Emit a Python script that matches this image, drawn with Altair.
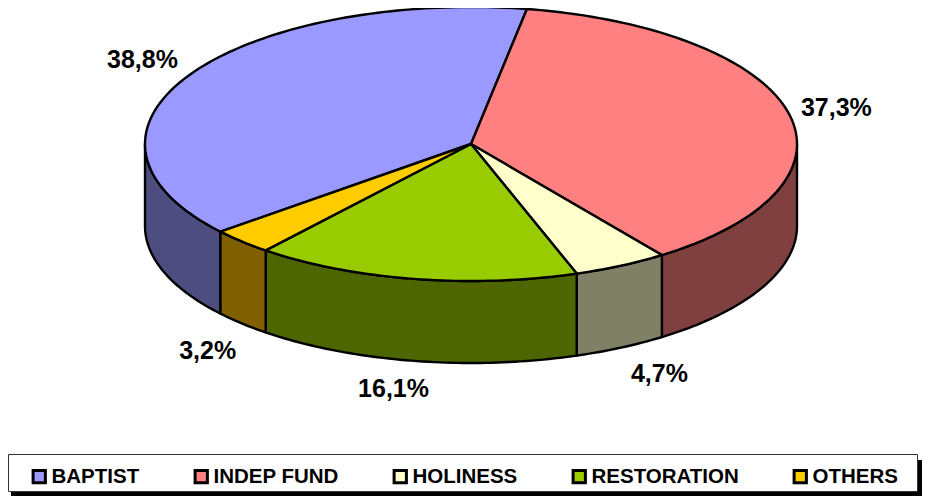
import math
import altair as alt
import pandas as pd

names = ["BAPTIST", "INDEP FUND", "HOLINESS", "RESTORATION", "OTHERS"]
shares = [38.8, 37.3, 4.7, 16.1, 3.2]
labels = ["38,8%", "37,3%", "4,7%", "16,1%", "3,2%"]
top_colors = ["#9999FF", "#FF8080", "#FFFFCC", "#99CC00", "#FFCC00"]
side_colors = ["#4D4D80", "#804040", "#808066", "#4D6600", "#806000"]

W, H = 914, 488
OX, OY = 8, 8            # page offset of the plot area
CX, CY, RX, RY, DEPTH = 471, 144, 326, 137, 82
START = 230.2            # first slice starts here, degrees clockwise from top
PER_UNIT = 3.6
# label anchor tweaks around the computed radial position
nudge = [(-4, -2), (0, 1), (16, 2.5), (-12, 1), (0, 8)]


def pt(deg, drop=0):
    a = math.radians(deg)
    return CX + RX * math.sin(a), CY - RY * math.cos(a) + drop


tops, sides, texts = [], [], []
a0 = START
for i, (n, s) in enumerate(zip(names, shares)):
    a1 = min(a0 + s * PER_UNIT, START + 360)
    steps = max(3, int(s * 3))
    arc = [a0 + (a1 - a0) * k / steps for k in range(steps + 1)]
    poly = [(CX, CY)] + [pt(a) for a in arc] + [(CX, CY)]
    tops.append(pd.DataFrame([{"k": k, "x": x, "y": y} for k, (x, y) in enumerate(poly)]))
    # visible wall: the part of the rim lying in the front half of the ellipse
    wall = []
    for off in (0, 360):
        lo, hi = max(a0, 90 + off), min(a1, 270 + off)
        if lo < hi:
            m = max(3, int(hi - lo))
            seg = [lo + (hi - lo) * k / m for k in range(m + 1)]
            ring = [pt(a) for a in seg] + [pt(a, DEPTH) for a in reversed(seg)]
            ring.append(ring[0])
            wall = [{"k": k, "x": x, "y": y} for k, (x, y) in enumerate(ring)]
    sides.append(pd.DataFrame(wall))
    mid = (a0 + a1) / 2
    mx, my = pt(mid)
    lx = CX + (mx - CX) * 1.15 + nudge[i][0]
    ly = CY + (my - CY) * 1.2 + (DEPTH if math.cos(math.radians(mid)) < 0 else 0) + nudge[i][1]
    texts.append({"label": labels[i], "x": lx, "y": ly})
    a0 = a1

xs = alt.Scale(domain=[OX, OX + W], range=[0, W], nice=False, zero=False)
ys = alt.Scale(domain=[OY, OY + H], range=[0, H], nice=False, zero=False)
X = alt.X("x:Q", scale=xs, axis=None)
Y = alt.Y("y:Q", scale=ys, axis=None)


def shape(df, colour):
    return (
        alt.Chart(df)
        .mark_line(fill=colour, stroke="black", strokeWidth=2.4, strokeJoin="round", interpolate="linear")
        .encode(x=X, y=Y, order="k:Q")
    )


walls = [shape(df, c) for df, c in zip(sides, side_colors)]
faces = [shape(df, c) for df, c in zip(tops, top_colors)]

legend_layer = (
    alt.Chart(pd.DataFrame({"name": names}))
    .mark_square(opacity=0, size=1)
    .encode(
        x=alt.value(0), y=alt.value(0),
        fill=alt.Fill(
            "name:N",
            sort=names,
            scale=alt.Scale(domain=names, range=top_colors),
            legend=alt.Legend(
                title=None, orient="none", legendX=21, legendY=458, columns=5,
                direction="horizontal", symbolType="square", symbolSize=151,
                symbolStrokeColor="black", symbolStrokeWidth=3, symbolOpacity=1,
                labelFont="Liberation Sans", labelFontWeight="bold", labelFontSize=20.5,
                labelColor="black", labelOffset=2, columnPadding=49, labelLimit=300,
                padding=0, zindex=1,
            ),
        ),
    )
)
text = (
    alt.Chart(pd.DataFrame(texts))
    .mark_text(font="Liberation Sans", fontWeight="bold", fontSize=25, color="black",
               align="center", baseline="middle")
    .encode(x=X, y=Y, text="label:N")
)
one = pd.DataFrame({"a": [0]})
shadow1 = alt.Chart(one).mark_rect(color="black").encode(
    x=alt.value(3), x2=alt.value(W), y=alt.value(483), y2=alt.value(H))
shadow2 = alt.Chart(one).mark_rect(color="black").encode(
    x=alt.value(909), x2=alt.value(W), y=alt.value(452), y2=alt.value(H))
box = alt.Chart(one).mark_rect(fill="white", stroke="#333333", strokeWidth=1).encode(
    x=alt.value(0.5), x2=alt.value(909.5), y=alt.value(446.5), y2=alt.value(483.5))

chart = (
    alt.layer(shadow1, shadow2, box, *walls, *faces, legend_layer, text)
    .properties(width=W, height=H, padding=0, autosize=alt.AutoSizeParams(type="none"),
                background="white")
    .configure_view(stroke=None)
)
chart.save("out.html", embed_options={"renderer": "svg", "actions": False})
